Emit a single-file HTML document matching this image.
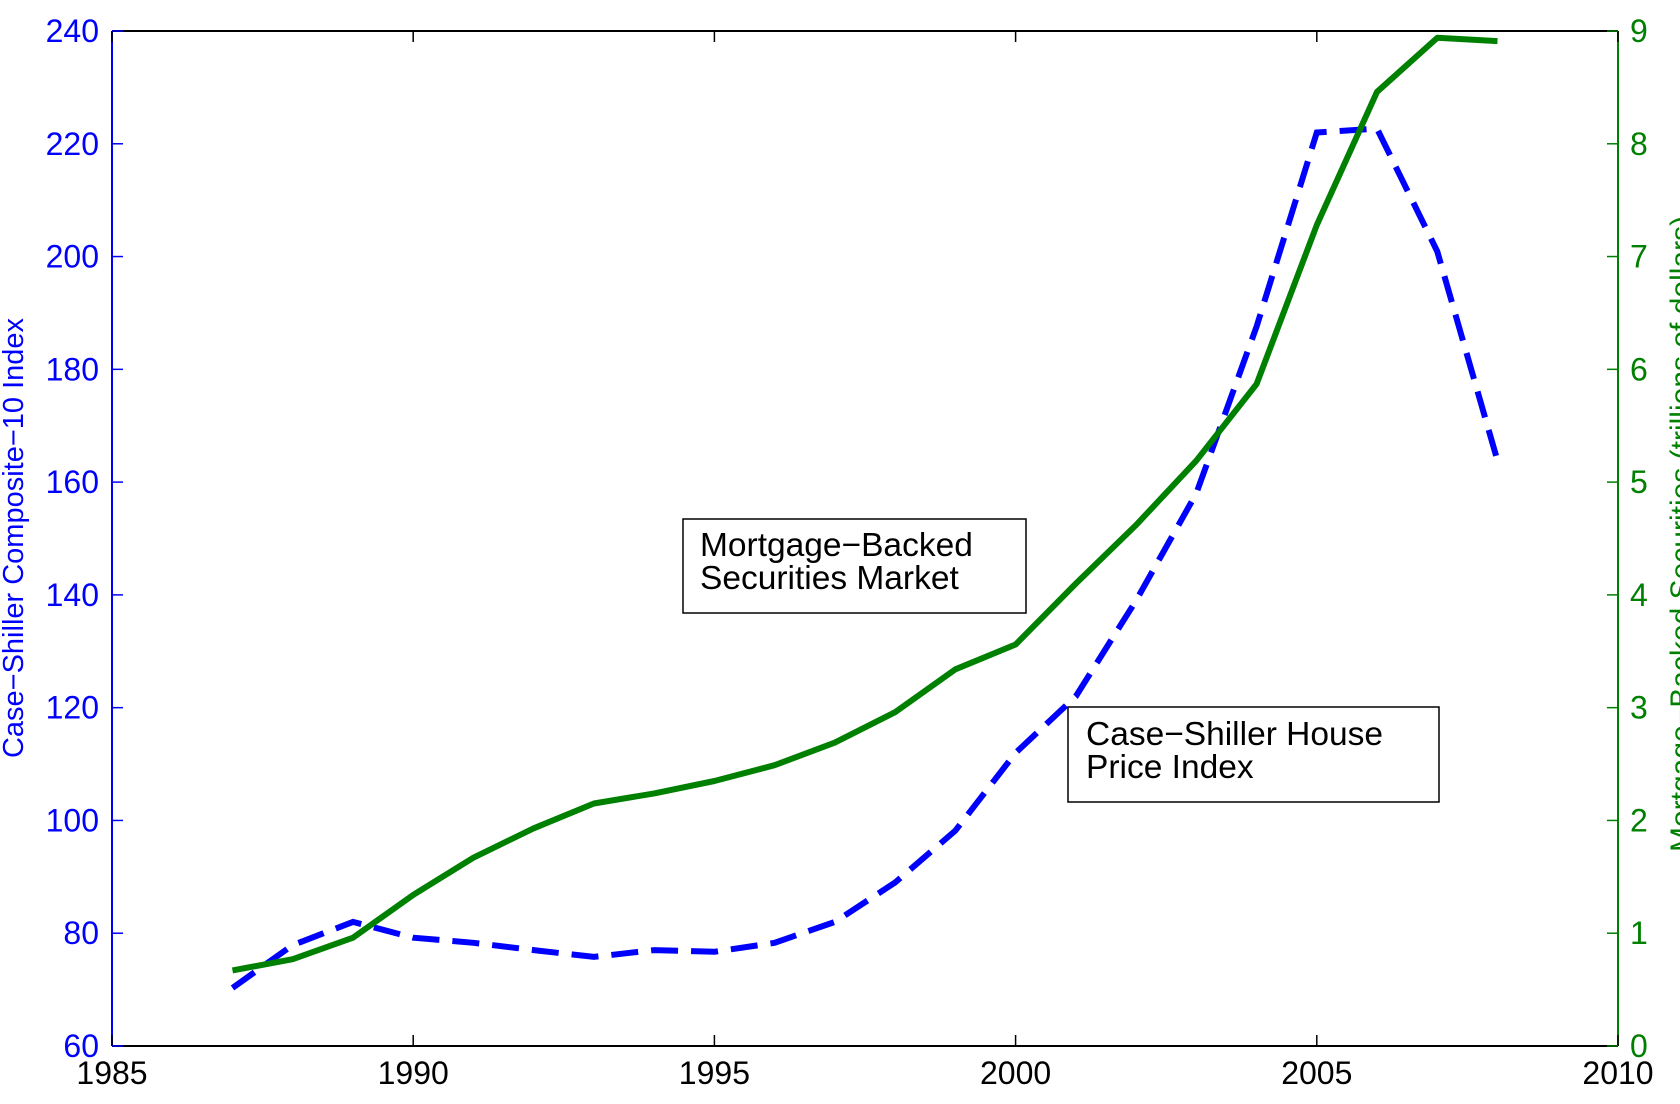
<!DOCTYPE html>
<html><head><meta charset="utf-8"><style>
html,body{margin:0;padding:0;background:#fff;overflow:hidden;}
svg{display:block;font-family:"Liberation Sans",sans-serif;}
</style></head><body>
<svg id="chart" width="1680" height="1104" viewBox="0 0 1680 1104">
<g id="series"></g>
<g id="axes"></g>
<text transform="translate(23,538) rotate(-90)" text-anchor="middle" font-size="29" fill="#0000ff">Case−Shiller Composite−10 Index</text>
<text transform="translate(1691,534) rotate(-90)" text-anchor="middle" font-size="30" fill="#008000">Mortgage−Backed Securities (trillions of dollars)</text>
<g>
<rect x="683" y="519" width="343" height="94" fill="#fff" stroke="#000" stroke-width="1.5"/>
<text x="700" y="556" font-size="33.5" fill="#000">Mortgage−Backed</text>
<text x="700" y="589" font-size="33.5" fill="#000">Securities Market</text>
</g>
<g>
<rect x="1068" y="707" width="371" height="95" fill="#fff" stroke="#000" stroke-width="1.5"/>
<text x="1086" y="745" font-size="33.5" fill="#000">Case−Shiller House</text>
<text x="1086" y="778" font-size="33.5" fill="#000">Price Index</text>
</g>
</svg>
<script>
const years = [1987,1988,1989,1990,1991,1992,1993,1994,1995,1996,1997,1998,1999,2000,2001,2002,2003,2004,2005,2006,2007,2008];
const hpiValues = [70.3,77.9,82,79.2,78.3,77,75.8,77,76.7,78.3,82,89,98.2,112,122,139,158,187.6,222,222.7,200.9,163.8];
const mbsValues = [0.67,0.77,0.96,1.34,1.67,1.93,2.15,2.24,2.35,2.49,2.69,2.96,3.34,3.56,4.1,4.62,5.19,5.87,7.28,8.46,8.94,8.91];
const xTicks = [1985,1990,1995,2000,2005,2010];
const leftTicks = [60,80,100,120,140,160,180,200,220,240];
const rightTicks = [0,1,2,3,4,5,6,7,8,9];

const PL=112,PR=1618,PT=31,PB=1046;
const xs=v=>PL+(v-1985)/(2010-1985)*(PR-PL);
const yL=v=>PB-(v-60)/(240-60)*(PB-PT);
const yR=v=>PB-(v-0)/9*(PB-PT);
const NS='http://www.w3.org/2000/svg';
function mk(tag,attrs,parent){const e=document.createElementNS(NS,tag);for(const k in attrs)e.setAttribute(k,attrs[k]);parent.appendChild(e);return e;}
const axesG=document.getElementById('axes'), seriesG=document.getElementById('series');

let d=years.map((yr,i)=>(i?'L':'M')+xs(yr).toFixed(1)+','+yL(hpiValues[i]).toFixed(1)).join(' ');
const hp=mk('path',{d:d,fill:'none',stroke:'#0000ff','stroke-width':6,'stroke-dasharray':'27,13'},seriesG);


d=years.map((yr,i)=>(i?'L':'M')+xs(yr).toFixed(1)+','+yR(mbsValues[i]).toFixed(1)).join(' ');
const mp=mk('path',{d:d,fill:'none',stroke:'#008000','stroke-width':6,'stroke-linejoin':'round'},seriesG);



const topB=mk('line',{x1:PL,y1:PT,x2:PR,y2:PT,stroke:'#000','stroke-width':2},axesG);


const botB=mk('line',{x1:PL,y1:PB,x2:PR,y2:PB,stroke:'#000','stroke-width':2},axesG);


const ls=mk('line',{x1:PL,y1:PT,x2:PL,y2:PB,stroke:'#0000ff','stroke-width':2},axesG);


const rs=mk('line',{x1:PR,y1:PT,x2:PR,y2:PB,stroke:'#008000','stroke-width':2},axesG);



xTicks.forEach(v=>{
  mk('line',{x1:xs(v),y1:PB,x2:xs(v),y2:PB-11,stroke:'#000','stroke-width':1.5},axesG);
  mk('line',{x1:xs(v),y1:PT,x2:xs(v),y2:PT+11,stroke:'#000','stroke-width':1.5},axesG);
  const t=mk('text',{x:xs(v),y:1084,'text-anchor':'middle','font-size':32,fill:'#000'},axesG);
  t.textContent=v;
  
  
});
leftTicks.forEach(v=>{
  mk('line',{x1:PL,y1:yL(v),x2:PL+11,y2:yL(v),stroke:'#0000ff','stroke-width':1.5},axesG);
  const t=mk('text',{x:PL-13,y:yL(v)+11,'text-anchor':'end','font-size':32,fill:'#0000ff'},axesG);
  t.textContent=v;
  
  
});
rightTicks.forEach(v=>{
  mk('line',{x1:PR,y1:yR(v),x2:PR-11,y2:yR(v),stroke:'#008000','stroke-width':1.5},axesG);
  const t=mk('text',{x:PR+12,y:yR(v)+11,'text-anchor':'start','font-size':32,fill:'#008000'},axesG);
  t.textContent=v;
  
  
});
</script>
</body></html>
